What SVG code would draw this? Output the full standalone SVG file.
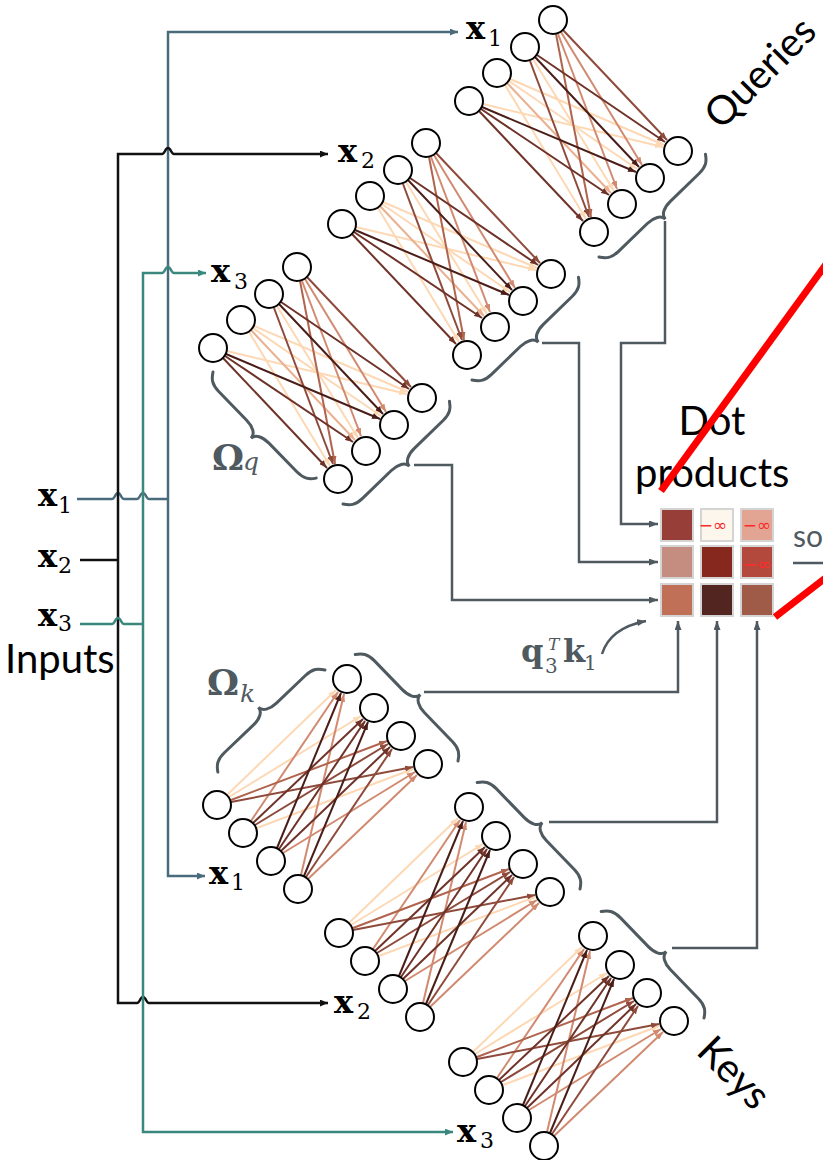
<svg xmlns="http://www.w3.org/2000/svg" width="823" height="1160" viewBox="0 0 823 1160">
<style>
.n{fill:#fff;stroke:#000;stroke-width:2}
.w{fill:none;stroke-width:2}
.c1{stroke:#fdd8b5;marker-end:url(#m1)}
.c2{stroke:#eab08f;marker-end:url(#m2)}
.c3{stroke:#d18a70;marker-end:url(#m3)}
.c4{stroke:#b0644e;marker-end:url(#m4)}
.c5{stroke:#8e4a3b;marker-end:url(#m5)}
.c6{stroke:#6e3228;marker-end:url(#m6)}
.c7{stroke:#4a1e18;marker-end:url(#m7)}
.br{fill:none;stroke:#4f5a60;stroke-width:3;stroke-linecap:round}
.cn{fill:none;stroke:#4f5a60;stroke-width:2.5;marker-end:url(#mg)}
.wb{fill:none;stroke:#4a6b7b;stroke-width:2.5}
.wk{fill:none;stroke:#111;stroke-width:2.5}
.wt{fill:none;stroke:#3a877d;stroke-width:2.5}
.mx{font-family:"DejaVu Serif",serif;font-weight:bold;font-size:32px}
.sb{font-family:"DejaVu Serif",serif;font-size:22px}
.lb{font-family:Lato,"Noto Sans",sans-serif;font-size:40px}
.g{fill:#4f5a60}
.inf{font-family:"DejaVu Sans",sans-serif;font-size:17px;fill:#ff2a2a;text-anchor:middle}
.cell{stroke:#d4d4d4;stroke-width:2}
</style>
<defs>
<marker id="m1" viewBox="0 0 8 6" refX="8" refY="3" markerWidth="8" markerHeight="6" markerUnits="userSpaceOnUse" orient="auto"><path d="M0,0L8,3L0,6z" fill="#fdd8b5"/></marker>
<marker id="m2" viewBox="0 0 8 6" refX="8" refY="3" markerWidth="8" markerHeight="6" markerUnits="userSpaceOnUse" orient="auto"><path d="M0,0L8,3L0,6z" fill="#eab08f"/></marker>
<marker id="m3" viewBox="0 0 8 6" refX="8" refY="3" markerWidth="8" markerHeight="6" markerUnits="userSpaceOnUse" orient="auto"><path d="M0,0L8,3L0,6z" fill="#d18a70"/></marker>
<marker id="m4" viewBox="0 0 8 6" refX="8" refY="3" markerWidth="8" markerHeight="6" markerUnits="userSpaceOnUse" orient="auto"><path d="M0,0L8,3L0,6z" fill="#b0644e"/></marker>
<marker id="m5" viewBox="0 0 8 6" refX="8" refY="3" markerWidth="8" markerHeight="6" markerUnits="userSpaceOnUse" orient="auto"><path d="M0,0L8,3L0,6z" fill="#8e4a3b"/></marker>
<marker id="m6" viewBox="0 0 8 6" refX="8" refY="3" markerWidth="8" markerHeight="6" markerUnits="userSpaceOnUse" orient="auto"><path d="M0,0L8,3L0,6z" fill="#6e3228"/></marker>
<marker id="m7" viewBox="0 0 8 6" refX="8" refY="3" markerWidth="8" markerHeight="6" markerUnits="userSpaceOnUse" orient="auto"><path d="M0,0L8,3L0,6z" fill="#4a1e18"/></marker>
<marker id="mg" viewBox="0 0 9 7" refX="9" refY="3.5" markerWidth="9" markerHeight="7" markerUnits="userSpaceOnUse" orient="auto"><path d="M0,0L9,3.5L0,7z" fill="#4f5a60"/></marker>
<marker id="mb" viewBox="0 0 8 7" refX="8" refY="3.5" markerWidth="8" markerHeight="7" markerUnits="userSpaceOnUse" orient="auto"><path d="M0,0L8,3.5L0,7z" fill="#4a6b7b"/></marker>
<marker id="mk" viewBox="0 0 8 7" refX="8" refY="3.5" markerWidth="8" markerHeight="7" markerUnits="userSpaceOnUse" orient="auto"><path d="M0,0L8,3.5L0,7z" fill="#111"/></marker>
<marker id="mt" viewBox="0 0 8 7" refX="8" refY="3.5" markerWidth="8" markerHeight="7" markerUnits="userSpaceOnUse" orient="auto"><path d="M0,0L8,3.5L0,7z" fill="#3a877d"/></marker>
<path id="brace" d="M0,0 C4,6 8,9.5 18,9.5 L58,9.5 C67,9.5 74,13 74,19 C74,13 81,9.5 90,9.5 L130,9.5 C140,9.5 144,6 148,0"/>
<g id="qw">
<line class="w c1" x1="-20" y1="39" x2="61" y2="171"/>
<line class="w c1" x1="-43" y1="59" x2="111" y2="125"/>
<line class="w c1" x1="-44" y1="61" x2="84" y2="149"/>
<line class="w c1" x1="-48" y1="65" x2="33" y2="199"/>
<line class="w c1" x1="-70" y1="84" x2="110" y2="127"/>
<line class="w c2" x1="-46" y1="63" x2="58" y2="173"/>
<line class="w c3" x1="8" y1="12" x2="89" y2="145"/>
<line class="w c3" x1="5" y1="14" x2="64" y2="169"/>
<line class="w c4" x1="3" y1="14" x2="38" y2="197"/>
<line class="w c5" x1="10" y1="10" x2="114" y2="120"/>
<line class="w c5" x1="-23" y1="41" x2="36" y2="197"/>
<line class="w c6" x1="-16" y1="35" x2="112" y2="122"/>
<line class="w c6" x1="-72" y1="89" x2="56" y2="175"/>
<line class="w c6" x1="-74" y1="91" x2="30" y2="201"/>
<line class="w c7" x1="-18" y1="37" x2="86" y2="147"/>
<line class="w c7" x1="-71" y1="87" x2="83" y2="152"/>
</g>
<g id="kw">
<line class="w c1" x1="10" y1="-10" x2="119" y2="-115"/>
<line class="w c1" x1="12" y1="-8" x2="144" y2="-89"/>
<line class="w c1" x1="40" y1="23" x2="196" y2="-36"/>
<line class="w c3" x1="34" y1="16" x2="121" y2="-113"/>
<line class="w c3" x1="66" y1="48" x2="198" y2="-33"/>
<line class="w c3" x1="84" y1="70" x2="127" y2="-111"/>
<line class="w c3" x1="91" y1="74" x2="200" y2="-30"/>
<line class="w c4" x1="14" y1="-5" x2="170" y2="-64"/>
<line class="w c5" x1="14" y1="-3" x2="196" y2="-38"/>
<line class="w c5" x1="38" y1="20" x2="171" y2="-61"/>
<line class="w c5" x1="89" y1="72" x2="175" y2="-56"/>
<line class="w c6" x1="36" y1="18" x2="146" y2="-86"/>
<line class="w c6" x1="62" y1="44" x2="148" y2="-84"/>
<line class="w c6" x1="64" y1="46" x2="173" y2="-58"/>
<line class="w c7" x1="60" y1="43" x2="124" y2="-112"/>
<line class="w c7" x1="87" y1="71" x2="151" y2="-83"/>
</g>
</defs>
<rect width="823" height="1160" fill="#fff"/>

<!-- input wiring -->
<g id="input-wires">
<path class="wb" d="M77,499 L112,499 C115,499 115,493 118,493 C121,493 121,499 124,499 L137,499 C140,499 140,493 143,493 C146,493 146,499 149,499 L168,499"/>
<path class="wb" d="M168,499 L168,32 L458,32" marker-end="url(#mb)"/>
<path class="wb" d="M168,499 L168,876 L205,876" marker-end="url(#mb)"/>
<path class="wk" d="M80,560 L118,560"/>
<path class="wk" d="M118,560 L118,154 L162,154 C165,154 165,148 168,148 C171,148 171,154 174,154 L328,154" marker-end="url(#mk)"/>
<path class="wk" d="M118,560 L118,1003 L137,1003 C140,1003 140,997 143,997 C146,997 146,1003 149,1003 L328,1003" marker-end="url(#mk)"/>
<path class="wt" d="M80,624 L112,624 C115,624 115,618 118,618 C121,618 121,624 124,624 L143,624"/>
<path class="wt" d="M143,624 L143,273 L162,273 C165,273 165,267 168,267 C171,267 171,273 174,273 L206,273" marker-end="url(#mt)"/>
<path class="wt" d="M143,624 L143,1132 L453,1132" marker-end="url(#mt)"/>
</g>

<!-- input labels -->
<g id="labels-inputs">
<text class="mx" x="38" y="506">x</text><text class="sb" x="58" y="513">1</text>
<text class="mx" x="38" y="567">x</text><text class="sb" x="58" y="573">2</text>
<text class="mx" x="38" y="626">x</text><text class="sb" x="58" y="631">3</text>
<text class="lb" x="5" y="673">Inputs</text>
<text class="mx" x="466" y="39">x</text><text class="sb" x="488" y="46">1</text>
<text class="mx" x="338" y="162">x</text><text class="sb" x="361" y="168">2</text>
<text class="mx" x="211" y="282">x</text><text class="sb" x="234" y="289">3</text>
<text class="mx" x="209" y="884">x</text><text class="sb" x="231" y="890">1</text>
<text class="mx" x="334" y="1013">x</text><text class="sb" x="357" y="1019">2</text>
<text class="mx" x="457" y="1142">x</text><text class="sb" x="480" y="1148">3</text>
</g>

<!-- weights (connectors within layers) -->
<g id="weights">
<use href="#qw" x="553" y="20"/>
<use href="#qw" x="426" y="143"/>
<use href="#qw" x="297" y="267"/>
<use href="#kw" x="217" y="805"/>
<use href="#kw" x="339" y="933"/>
<use href="#kw" x="463" y="1062"/>
</g>

<!-- nodes -->
<g id="query-layer-1" transform="translate(553,20)">
<circle class="n" cx="0" cy="0" r="14"/><circle class="n" cx="-28" cy="27" r="14"/><circle class="n" cx="-56" cy="53" r="14"/><circle class="n" cx="-84" cy="81" r="14"/>
<circle class="n" cx="125" cy="131" r="14"/><circle class="n" cx="97" cy="158" r="14"/><circle class="n" cx="69" cy="184" r="14"/><circle class="n" cx="41" cy="212" r="14"/>
</g>
<g id="query-layer-2" transform="translate(426,143)">
<circle class="n" cx="0" cy="0" r="14"/><circle class="n" cx="-28" cy="27" r="14"/><circle class="n" cx="-56" cy="53" r="14"/><circle class="n" cx="-84" cy="81" r="14"/>
<circle class="n" cx="125" cy="131" r="14"/><circle class="n" cx="97" cy="158" r="14"/><circle class="n" cx="69" cy="184" r="14"/><circle class="n" cx="41" cy="212" r="14"/>
</g>
<g id="query-layer-3" transform="translate(297,267)">
<circle class="n" cx="0" cy="0" r="14"/><circle class="n" cx="-28" cy="27" r="14"/><circle class="n" cx="-56" cy="53" r="14"/><circle class="n" cx="-84" cy="81" r="14"/>
<circle class="n" cx="125" cy="131" r="14"/><circle class="n" cx="97" cy="158" r="14"/><circle class="n" cx="69" cy="184" r="14"/><circle class="n" cx="41" cy="212" r="14"/>
</g>
<g id="key-layer-1" transform="translate(217,805)">
<circle class="n" cx="0" cy="0" r="14"/><circle class="n" cx="26" cy="28" r="14"/><circle class="n" cx="54" cy="56" r="14"/><circle class="n" cx="81" cy="84" r="14"/>
<circle class="n" cx="130" cy="-126" r="14"/><circle class="n" cx="157" cy="-97" r="14"/><circle class="n" cx="184" cy="-69" r="14"/><circle class="n" cx="211" cy="-41" r="14"/>
</g>
<g id="key-layer-2" transform="translate(339,933)">
<circle class="n" cx="0" cy="0" r="14"/><circle class="n" cx="26" cy="28" r="14"/><circle class="n" cx="54" cy="56" r="14"/><circle class="n" cx="81" cy="84" r="14"/>
<circle class="n" cx="130" cy="-126" r="14"/><circle class="n" cx="157" cy="-97" r="14"/><circle class="n" cx="184" cy="-69" r="14"/><circle class="n" cx="211" cy="-41" r="14"/>
</g>
<g id="key-layer-3" transform="translate(463,1062)">
<circle class="n" cx="0" cy="0" r="14"/><circle class="n" cx="26" cy="28" r="14"/><circle class="n" cx="54" cy="56" r="14"/><circle class="n" cx="81" cy="84" r="14"/>
<circle class="n" cx="130" cy="-126" r="14"/><circle class="n" cx="157" cy="-97" r="14"/><circle class="n" cx="184" cy="-69" r="14"/><circle class="n" cx="211" cy="-41" r="14"/>
</g>

<!-- braces -->
<g id="braces">
<use href="#brace" class="br" transform="translate(599,257) rotate(-44)"/>
<use href="#brace" class="br" transform="translate(472,380) rotate(-44)"/>
<use href="#brace" class="br" transform="translate(343,504) rotate(-44)"/>
<use href="#brace" class="br" transform="translate(213,372) rotate(45.8)"/>
<use href="#brace" class="br" transform="translate(325,670) rotate(136.4)"/>
<use href="#brace" class="br" transform="translate(458,761) rotate(-134)"/>
<use href="#brace" class="br" transform="translate(580,889) rotate(-134)"/>
<use href="#brace" class="br" transform="translate(704,1018) rotate(-134)"/>
</g>

<!-- connectors to dot-product matrix -->
<g id="connectors">
<path class="cn" d="M665,221 L665,343 L621,343 L621,524 L658,524"/>
<path class="cn" d="M542,343 L579,343 L579,562 L658,562"/>
<path class="cn" d="M414,465 L452,465 L452,600 L658,600"/>
<path class="cn" d="M424,692 L678,692 L678,621"/>
<path class="cn" d="M549,822 L717,822 L717,621"/>
<path class="cn" d="M672,948 L757,948 L757,621"/>
<path class="cn" d="M602,654 Q610,628 646,621"/>
<path fill="none" stroke="#4f5a60" stroke-width="2.5" d="M793,563 L823,563"/>
</g>

<!-- labels -->
<g id="labels" class="g">
<text class="mx" x="212" y="470" style="font-size:36px">Ω</text>
<text x="243" y="470" style="font-family:'DejaVu Serif',serif;font-style:italic;font-size:25px">q</text>
<text class="mx" x="207" y="695" style="font-size:36px">Ω</text>
<text x="240" y="702" style="font-family:'DejaVu Serif',serif;font-style:italic;font-size:25px">k</text>
<text class="mx" x="521" y="662">q</text>
<text x="548" y="650" style="font-family:'DejaVu Serif',serif;font-style:italic;font-size:17px">T</text>
<text class="sb" x="545" y="673" style="font-size:20px">3</text>
<text class="mx" x="563" y="662">k</text>
<text class="sb" x="584" y="670" style="font-size:20px">1</text>
<text class="lb" x="793" y="547" style="font-size:30px">so</text>
</g>
<text class="lb" transform="translate(721,131) rotate(-45)">Queries</text>
<text class="lb" transform="translate(695,1053) rotate(45)">Keys</text>
<text class="lb" x="712" y="435" text-anchor="middle">Dot</text>
<text class="lb" x="635" y="487">products</text>

<!-- dot product matrix -->
<g id="matrix">
<rect class="cell" x="661" y="509" width="32" height="32" fill="#963e37"/>
<rect class="cell" x="701" y="509" width="32" height="32" fill="#fdf6ec"/>
<rect class="cell" x="741" y="509" width="32" height="32" fill="#e2a593"/>
<rect class="cell" x="661" y="546" width="32" height="32" fill="#c48d80"/>
<rect class="cell" x="701" y="546" width="32" height="32" fill="#87281f"/>
<rect class="cell" x="741" y="546" width="32" height="32" fill="#b3493d"/>
<rect class="cell" x="661" y="584" width="32" height="32" fill="#c07057"/>
<rect class="cell" x="701" y="584" width="32" height="32" fill="#522520"/>
<rect class="cell" x="741" y="584" width="32" height="32" fill="#a05a48"/>
<text class="inf" x="713" y="531">−∞</text>
<text class="inf" x="757" y="531">−∞</text>
<text class="inf" x="757" y="570">−∞</text>
</g>

<!-- red strike lines -->
<g id="strikes" stroke="#ff0000" stroke-width="7" fill="none">
<path d="M661,491 L832,256"/>
<path d="M775,617 L832,573"/>
</g>
</svg>
